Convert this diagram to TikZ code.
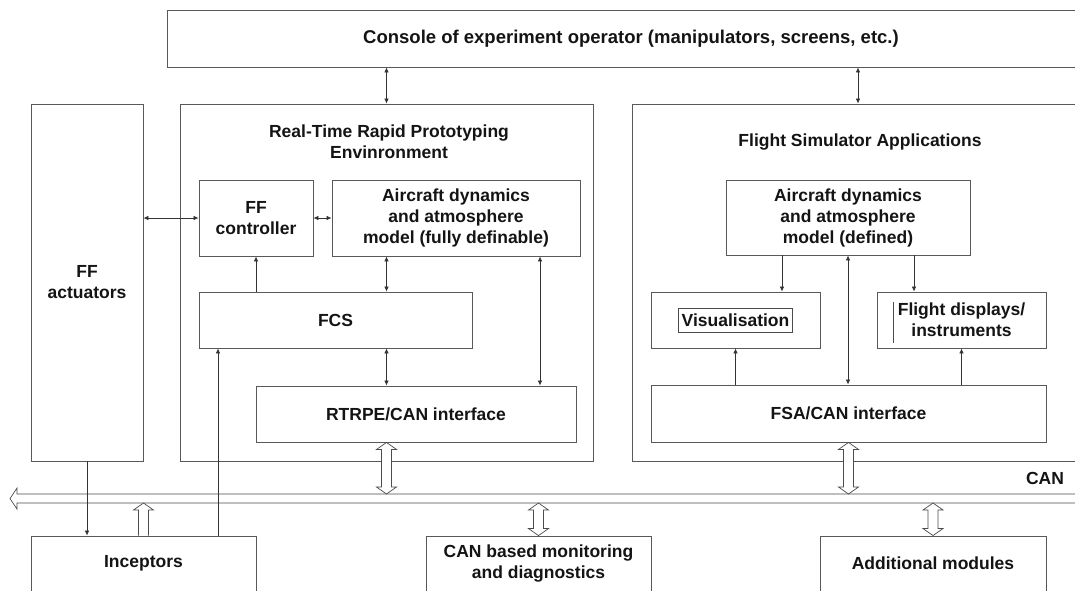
\documentclass[tikz,border=0pt]{standalone}
\usepackage{fontspec}
\setmainfont{Liberation Sans}
\usetikzlibrary{arrows.meta,calc}
\newcommand\hdbl[2]{\draw[hol] let \p1=(#1), \p2=(#2) in (\x1-5pt,\y1-7pt) -- (\x1-10pt,\y1-7pt) -- (\x1,\y1) -- (\x1+10pt,\y1-7pt) -- (\x1+5pt,\y1-7pt) -- (\x1+5pt,\y2+7pt) -- (\x1+10pt,\y2+7pt) -- (\x1,\y2) -- (\x1-10pt,\y2+7pt) -- (\x1-5pt,\y2+7pt) -- cycle;}
\newcommand\hsgl[2]{\draw[hol] let \p1=(#1), \p2=(#2) in (\x1-5pt,\y1) -- (\x1-5pt,\y2-7pt) -- (\x1-10pt,\y2-7pt) -- (\x1,\y2) -- (\x1+10pt,\y2-7pt) -- (\x1+5pt,\y2-7pt) -- (\x1+5pt,\y1);}
\begin{document}
\begin{tikzpicture}[x=1pt,y=-1pt,
  box/.style={draw=black!65, line width=0.9pt, inner sep=0pt},
  lbl/.style={font=\bfseries\fontsize{17.5}{21}\selectfont, text=black!92, align=center},
  con/.style={draw=black!80, line width=0.7pt},
  arr/.style={con, -{Latex[length=5pt,width=4.5pt]}},
  darr/.style={con, {Latex[length=5pt,width=4.5pt]}-{Latex[length=5pt,width=4.5pt]}},
  hol/.style={draw=black!70, line width=0.7pt, fill=white}]
\useasboundingbox (0,0) rectangle (1075,590);
\clip (0,0) rectangle (1075,590);
\fill[white] (0,0) rectangle (1075,590);

% outer boxes
\node[box, lbl, font=\bfseries\fontsize{18.5}{21}\selectfont, minimum width=928pt, minimum height=57pt] (console) at (631,38.5) {Console of experiment operator (manipulators, screens, etc.)};
\node[box, lbl, minimum width=112pt, minimum height=357pt] (act) at (87,282.5) {FF\\actuators};
\node[box, minimum width=413pt, minimum height=357pt] (rtrpe) at (386.5,282.5) {};
\node[box, minimum width=463pt, minimum height=357pt] (fsa) at (863.5,282.5) {};
\node[lbl] (rtitle) at (389,142) {Real-Time Rapid Prototyping\\Envinronment};
\node[lbl] (ftitle) at (860,142) {Flight Simulator Applications};

% RTRPE inner boxes
\node[box, lbl, minimum width=114pt, minimum height=76pt] (ffc) at (256,218) {FF\\controller};
\node[box, lbl, minimum width=248pt, minimum height=76pt] (adl) at (456,218) {Aircraft dynamics\\and atmosphere\\model (fully definable)};
\node[box, lbl, minimum width=273pt, minimum height=56pt] (fcs) at (335.5,320) {FCS};
\node[box, lbl, minimum width=320pt, minimum height=56pt] (rcan) at (416,414) {RTRPE/CAN interface};

% FSA inner boxes
\node[box, lbl, minimum width=244pt, minimum height=75pt] (adr) at (848,217.5) {Aircraft dynamics\\and atmosphere\\model (defined)};
\node[box, minimum width=169pt, minimum height=56pt] (vis) at (735.5,320) {};
\node[lbl, draw=black!70, line width=0.6pt, inner xsep=3pt, inner ysep=0pt, minimum height=24pt] (vistext) at (vis.center) {Visualisation};
\node[box, lbl, minimum width=169pt, minimum height=56pt] (fdi) at (961.5,320) {Flight displays/\\instruments};
\draw[draw=black!70, line width=0.6pt] ([shift={(-68.5,-18)}]fdi.center) -- ++(0,41);
\node[box, lbl, minimum width=395pt, minimum height=57pt] (fcan) at (848.5,413.5) {FSA/CAN interface};

% bottom boxes
\node[box, lbl, minimum width=225pt, minimum height=56pt] (inc) at (143.5,564) {};
\node[lbl] at (143.5,563) {Inceptors};
\node[box, minimum width=225pt, minimum height=56pt] (canm) at (538.5,564) {};
\node[lbl] at (538.5,564) {CAN based monitoring\\and diagnostics};
\node[box, minimum width=226pt, minimum height=56pt] (add) at (933,564) {};
\node[lbl] at (933,563) {Additional modules};

% CAN bus
\coordinate (busT) at (0,494);
\coordinate (busB) at (0,503);
\draw[hol, fill=none] (1080,494) -- (17,494) -- (17,488) -- (10,498.5) -- (17,509) -- (17,503) -- (1080,503);
\node[lbl] (canlbl) at (1045,478) {CAN};

% thin connectors
\draw[darr] (rtrpe.north |- console.south) -- (rtrpe.north);
\draw[darr] ([xshift=-5.5pt]fsa.north |- console.south) -- ([xshift=-5.5pt]fsa.north);
\draw[darr] (act.east |- ffc.west) -- (ffc.west);
\draw[darr] (ffc.east) -- (adl.west);
\draw[arr] (ffc.south |- fcs.north) -- (ffc.south);
\draw[darr] (adl.south -| rtrpe.north) -- (fcs.north -| rtrpe.north);
\draw[darr] (fcs.south -| rtrpe.north) -- (rcan.north -| rtrpe.north);
\draw[darr] ([xshift=84pt]adl.south) -- ([xshift=84pt]adl.south |- rcan.north);
\draw[arr] ([xshift=-66pt]adr.south) -- ([xshift=-66pt]adr.south |- vis.north);
\draw[arr] ([xshift=66pt]adr.south) -- ([xshift=66pt]adr.south |- fdi.north);
\draw[darr] (adr.south) -- (adr.south |- fcan.north);
\draw[arr] (vis.south |- fcan.north) -- (vis.south);
\draw[arr] (fdi.south |- fcan.north) -- (fdi.south);
\draw[arr] (act.south) -- (act.south |- inc.north);
\draw[arr] ([xshift=74.5pt]inc.north) -- ([xshift=74.5pt]inc.north |- fcs.south);

% hollow bus arrows
\hdbl{rcan.south -| rtrpe.north}{busT -| rtrpe.north}
\hdbl{fcan.south}{busT -| fcan.south}
\hdbl{busB -| canm.north}{canm.north}
\hdbl{busB -| add.north}{add.north}
\hsgl{inc.north}{busB -| inc.north}
\end{tikzpicture}
\end{document}
